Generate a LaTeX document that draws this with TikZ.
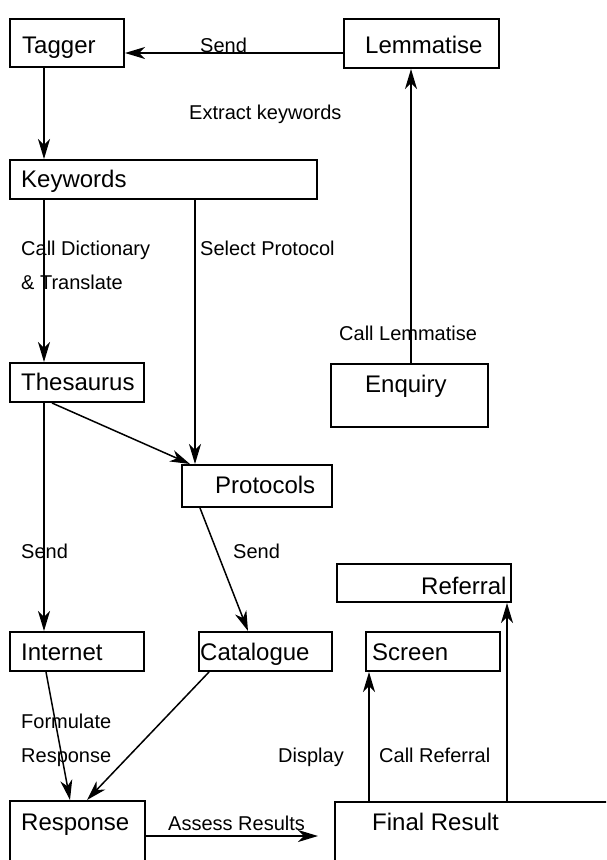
\documentclass[tikz,border=0pt]{standalone}
\usepackage{fontspec}
\setmainfont{Liberation Sans}
\usetikzlibrary{arrows.meta}
\tikzset{
  box/.style={draw, line width=2pt, rectangle, inner sep=0pt, anchor=north west},
  btxt/.style={inner sep=0pt, anchor=base west, font=\fontsize{24}{28}\selectfont},
  ltxt/.style={inner sep=0pt, anchor=base west, font=\fontsize{20}{34}\selectfont},
  mtxt/.style={inner sep=0pt, anchor=north west, align=left, font=\fontsize{20}{34}\selectfont},
  arr/.style={line width=1.5pt, -{Stealth[length=20pt,width=12pt,inset=6pt]}},
}
\begin{document}
\begin{tikzpicture}[x=1pt,y=-1pt]
\path[use as bounding box, clip] (0,0) rectangle (606,860);
\fill[white] (0,0) rectangle (606,860);

% boxes
\node[box, minimum width=114pt, minimum height=48pt] (tagger) at (9,18) {};
\node[box, minimum width=155pt, minimum height=49pt] (lemma) at (343,18) {};
\node[box, minimum width=307pt, minimum height=39pt] (keywords) at (9,159) {};
\node[box, minimum width=134pt, minimum height=39pt] (thesaurus) at (9,362) {};
\node[box, minimum width=150pt, minimum height=42pt] (protocols) at (181,464) {};
\node[box, minimum width=157pt, minimum height=63pt] (enquiry) at (330,363) {};
\node[box, minimum width=174pt, minimum height=38pt] (referral) at (336,563) {};
\node[box, minimum width=134pt, minimum height=39pt] (internet) at (9,631) {};
\node[box, minimum width=133pt, minimum height=39pt] (catalogue) at (198,631) {};
\node[box, minimum width=134pt, minimum height=39pt] (screen) at (365,631) {};
\node[box, minimum width=135pt, minimum height=100pt] (response) at (9,800) {};
\node[box, minimum width=300pt, minimum height=100pt] (final) at (334,801) {};

% box texts
\node[btxt] (tagger-t) at (22,53) {Tagger};
\node[btxt] (lemma-t) at (365,53) {Lemmatise};
\node[btxt] (keywords-t) at (21,187) {Keywords};
\node[btxt] (thesaurus-t) at (21,390) {Thesaurus};
\node[btxt] (protocols-t) at (215,493) {Protocols};
\node[btxt] (enquiry-t) at (365,392) {Enquiry};
\node[btxt] (referral-t) at (421,594) {Referral};
\node[btxt] (internet-t) at (21,660) {Internet};
\node[btxt] (catalogue-t) at (200,660) {Catalogue};
\node[btxt] (screen-t) at (372,660) {Screen};
\node[btxt] (response-t) at (21,830) {Response};
\node[btxt] (final-t) at (372,830) {Final Result};

% connectors
\draw[arr] (lemma.west |- 0,53) -- (tagger.east |- 0,53);
\draw[arr] (tagger.south -| 44,0) -- (keywords.north -| 44,0);
\draw[arr] (keywords.south -| 44,0) -- (thesaurus.north -| 44,0);
\draw[arr] (keywords.south -| 195,0) -- (protocols.north -| 195,0);
\draw[arr] (enquiry.north -| 411,0) -- (lemma.south -| 411,0);
\draw[arr] (thesaurus.south -| 52,0) -- (protocols.north -| 190,0);
\draw[arr] (thesaurus.south -| 44,0) -- (internet.north -| 44,0);
\draw[arr] (protocols.south -| 200,0) -- (catalogue.north -| 248,0);
\draw[arr] (internet.south -| 46,0) -- (response.north -| 70,0);
\draw[arr] (catalogue.south -| 209,0) -- (response.north -| 87,0);
\draw[arr, shorten >=16pt] (response.east |- 0,836) -- (final.west |- 0,836);
\draw[arr] (final.north -| 369,0) -- (screen.south -| 369,0);
\draw[arr] (final.north -| 507,0) -- (referral.south -| 507,0);

% connector labels
\node[ltxt] (l-send1) at (200,52) {Send};
\node[ltxt] (l-extract) at (189,119) {Extract keywords};
\node[mtxt] (l-dict) at (21,240.5) {Call Dictionary\\\& Translate};
\node[ltxt] (l-select) at (200,255) {Select Protocol};
\node[ltxt] (l-calllem) at (339,340) {Call Lemmatise};
\node[ltxt] (l-send2) at (21,558) {Send};
\node[ltxt] (l-send3) at (233,558) {Send};
\node[mtxt] (l-form) at (21,713.5) {Formulate\\Response};
\node[ltxt] (l-assess) at (168,830) {Assess Results};
\node[ltxt] (l-display) at (278,762) {Display};
\node[ltxt] (l-callref) at (379,762) {Call Referral};
\end{tikzpicture}
\end{document}
